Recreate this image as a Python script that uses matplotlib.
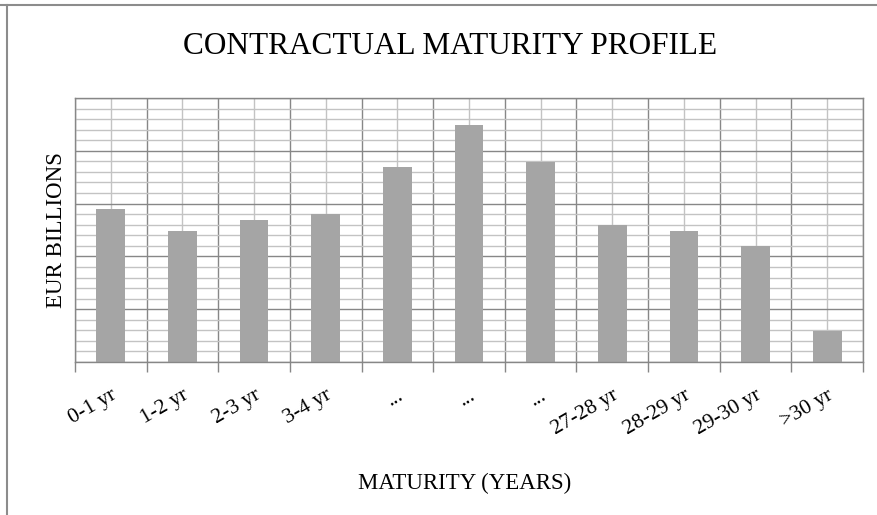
import matplotlib.pyplot as plt
from matplotlib.lines import Line2D
from matplotlib.ticker import MultipleLocator
from matplotlib.transforms import ScaledTranslation
import numpy as np

categories = ["0-1 yr", "1-2 yr", "2-3 yr", "3-4 yr", "...", "...", "...",
              "27-28 yr", "28-29 yr", "29-30 yr", ">30 yr"]
values = [2.89, 2.49, 2.69, 2.80, 3.69, 4.49, 3.79, 2.59, 2.49, 2.20, 0.59]

serif = "Liberation Serif"
bar_color = "#a5a5a5"
major_col = "#878787"
minor_col = "#c3c3c3"

fig = plt.figure(figsize=(8.78, 5.15), dpi=100)
ax = fig.add_axes([75 / 878, 1 - 362 / 515, (863 - 75) / 878, (362 - 98) / 515])

x = np.arange(len(categories))
ax.bar(x, values, width=0.4, color=bar_color, zorder=2)

ax.set_xlim(-0.5, len(categories) - 0.5)
ax.set_ylim(0, 5)

# category boundaries -> dark lines + tick marks, centers -> light lines + labels
ax.set_xticks(np.arange(-0.5, len(categories), 1.0))
ax.set_xticks(x, minor=True)
ax.set_xticklabels([], minor=False)
ax.set_xticklabels(categories, minor=True, rotation=30, ha="right", va="top",
                   rotation_mode="anchor", fontfamily=serif, fontsize=15.5)
shift = ScaledTranslation(-5 / 100, 0, fig.dpi_scale_trans)
for lbl in ax.get_xticklabels(minor=True):
    lbl.set_transform(lbl.get_transform() + shift)
ax.yaxis.set_major_locator(MultipleLocator(1))
ax.yaxis.set_minor_locator(MultipleLocator(0.2))
ax.set_yticklabels([])

ax.tick_params(axis="x", which="major", length=7, width=1, color=major_col, direction="out")
ax.tick_params(axis="x", which="minor", length=0, pad=17)
ax.tick_params(axis="y", which="both", length=0)

ax.grid(which="major", color=major_col, lw=1, zorder=0)
ax.grid(which="minor", color=minor_col, lw=1, zorder=0)
ax.set_axisbelow(True)
for s in ax.spines.values():
    s.set_color(major_col)
    s.set_linewidth(1)

ax.set_ylabel("EUR BILLIONS", fontfamily=serif, fontsize=16.5, labelpad=2)
fig.text(465 / 878, 1 - 483 / 515, "MATURITY (YEARS)", ha="center", va="center",
         fontfamily=serif, fontsize=16.5)
fig.text(450 / 878, 1 - 47 / 515, "CONTRACTUAL MATURITY PROFILE", ha="center",
         va="center", fontfamily=serif, fontsize=22.5)

# outer frame (only top and left visible)
fig.add_artist(Line2D([0, 1], [1 - 5 / 515] * 2, color="#8c8c8c", lw=1.5,
                      transform=fig.transFigure))
fig.add_artist(Line2D([7 / 878] * 2, [0, 1 - 5 / 515], color="#8c8c8c", lw=1.5,
                      transform=fig.transFigure))

fig.savefig("out.png", dpi=100)
